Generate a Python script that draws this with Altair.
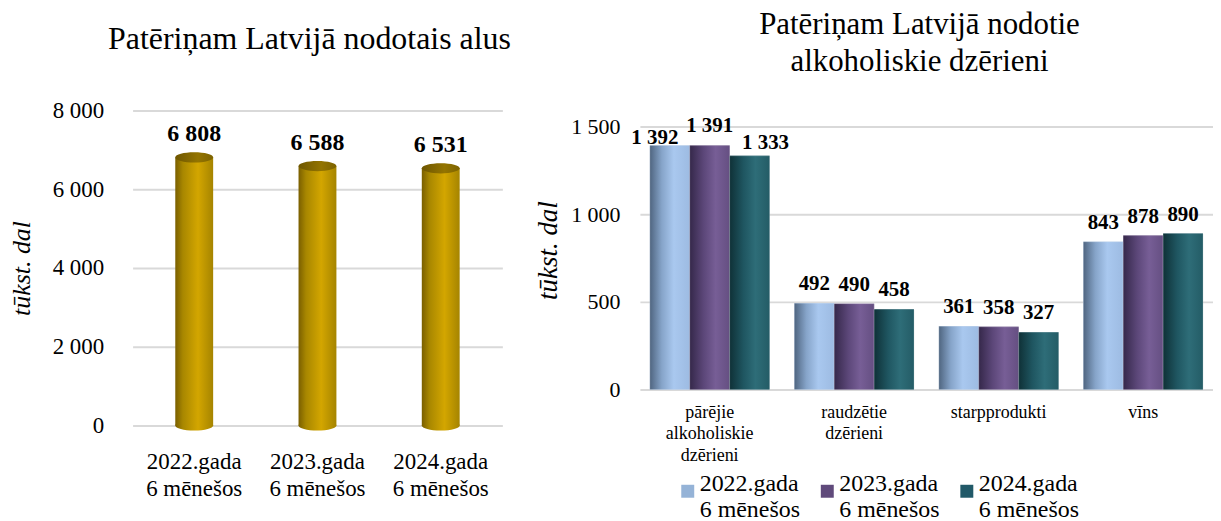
import altair as alt
import pandas as pd

# ---------------- data ----------------
periods = ["2022.gada 6 mēnešos", "2023.gada 6 mēnešos", "2024.gada 6 mēnešos"]
beer = [6808, 6588, 6531]

categories = ["pārējie alkoholiskie dzērieni", "raudzētie dzērieni", "starpprodukti", "vīns"]
alc_2022 = [1392, 492, 361, 843]
alc_2023 = [1391, 490, 358, 878]
alc_2024 = [1333, 458, 327, 890]

FONT = "Liberation Serif"


def fmt(v):
    return f"{v:,}".replace(",", " ")


beer_df = pd.DataFrame({"period": periods, "value": beer, "zero": [0] * len(beer)})
beer_df["label"] = beer_df["value"].map(fmt)

rows = []
for p, vals in zip(periods, [alc_2022, alc_2023, alc_2024]):
    for c, v in zip(categories, vals):
        rows.append({"category": c, "period": p, "value": v, "label": fmt(v)})
alc_df = pd.DataFrame(rows)

label_expr_num = "replace(format(datum.value, ','), ',', ' ')"
label_expr_period = "[substring(datum.label, 0, 9), substring(datum.label, 10)]"

# ---------------- left chart: beer cylinders ----------------
ELLIPSE = "M -1 0 A 1 0.27 0 1 0 1 0 A 1 0.27 0 1 0 -1 0 Z"
CYL_W = 38

gold_grad = alt.Gradient(
    gradient="linear", x1=0, x2=1, y1=0, y2=0,
    stops=[
        alt.GradientStop(offset=0, color="#7a5f00"),
        alt.GradientStop(offset=0.2, color="#a88700"),
        alt.GradientStop(offset=0.6, color="#d3a600"),
        alt.GradientStop(offset=1, color="#a58400"),
    ],
)
gold_top = alt.Gradient(
    gradient="linear", x1=0, x2=1, y1=0, y2=0,
    stops=[
        alt.GradientStop(offset=0, color="#6e5600"),
        alt.GradientStop(offset=0.6, color="#937400"),
        alt.GradientStop(offset=1, color="#7d6300"),
    ],
)

x_left = alt.X(
    "period:N", sort=periods, title=None,
    scale=alt.Scale(range=[0, 371], paddingInner=0, paddingOuter=0),
    axis=alt.Axis(labelExpr=label_expr_period, labelAngle=0, labelFont=FONT, labelFontSize=23,
                  labelColor="#000", labelPadding=25, labelLineHeight=27, ticks=False,
                  domain=False, labelBaseline="top"),
)
y_left_axis = alt.Axis(values=[0, 2000, 4000, 6000, 8000], labelExpr=label_expr_num, labelFont=FONT,
                       labelFontSize=23, labelColor="#000", labelPadding=29, ticks=False, domain=False,
                       gridColor="#d9d9d9", gridWidth=2, titleFont=FONT, titleFontSize=26,
                       titleFontStyle="italic", titleFontWeight="normal", titleColor="#000",
                       titlePadding=18)
y_left_scale = alt.Scale(domain=[0, 8000])
y_left = alt.Y("value:Q", title="tūkst. dal", scale=y_left_scale, axis=y_left_axis)
y_left_zero = alt.Y("zero:Q", title="tūkst. dal", scale=y_left_scale, axis=y_left_axis)

base_left = alt.Chart(beer_df)
cyl_body = base_left.mark_bar(size=CYL_W, fill=gold_grad).encode(x=x_left, y=y_left)
cyl_bottom = base_left.mark_point(shape=ELLIPSE, size=CYL_W * CYL_W, filled=True,
                                  fill=gold_grad, opacity=1, strokeWidth=0).encode(
    x=x_left, y=y_left_zero)
cyl_top = base_left.mark_point(shape=ELLIPSE, size=CYL_W * CYL_W, filled=True,
                               fill=gold_top, opacity=1, strokeWidth=0).encode(
    x=x_left, y=y_left)
beer_text = base_left.mark_text(font=FONT, fontSize=24, fontWeight="bold", color="#000",
                                baseline="alphabetic", dy=-16).encode(
    x=x_left, y=y_left, text="label:N")

left = alt.layer(cyl_body, cyl_bottom, cyl_top, beer_text).properties(
    width=383, height=316,
    title=alt.TitleParams("Patēriņam Latvijā nodotais alus", font=FONT, fontSize=32,
                          fontWeight="normal", color="#000", anchor="middle", offset=44, dx=-14),
)

# ---------------- right chart: grouped bars ----------------
solid_colors = ["#95b3d7", "#604a7b", "#215968"]
grads = [
    [("#4f6580", 0), ("#86a4c9", 0.3), ("#a9c8ef", 0.6), ("#9dbbe2", 1)],
    [("#35284a", 0), ("#5c4779", 0.35), ("#775e96", 0.65), ("#654f82", 1)],
    [("#0f3137", 0), ("#1f5661", 0.35), ("#2e6d78", 0.65), ("#245c66", 1)],
]

x_right = alt.X(
    "category:N", sort=categories, title=None,
    scale=alt.Scale(paddingInner=0.172, paddingOuter=0.069, align=0.5),
    axis=alt.Axis(labelExpr="split(datum.label, ' ')", labelAngle=0, labelFont=FONT, labelFontSize=18,
                  labelColor="#000", labelPadding=14, labelLineHeight=21.5, ticks=False, domain=False,
                  labelBaseline="top"),
)
y_right = alt.Y(
    "value:Q", title="tūkst. dal",
    scale=alt.Scale(domain=[0, 1591]),
    axis=alt.Axis(values=[0, 500, 1000, 1500], labelExpr=label_expr_num, labelFont=FONT,
                  labelFontSize=22, labelColor="#000", labelPadding=20, ticks=False, domain=False,
                  gridColor="#d9d9d9", gridWidth=2, titleFont=FONT, titleFontSize=27,
                  titleFontStyle="italic", titleFontWeight="normal", titleColor="#000",
                  titlePadding=8),
)
xoff = alt.XOffset("period:N", sort=periods, scale=alt.Scale(domain=periods, paddingInner=0))

base_right = alt.Chart(alc_df)
legend_bars = base_right.mark_bar().encode(
    x=x_right, y=y_right, xOffset=xoff,
    color=alt.Color(
        "period:N", sort=periods, title=None,
        scale=alt.Scale(domain=periods, range=solid_colors),
        legend=alt.Legend(orient="none", legendX=545, legendY=370, direction="horizontal",
                          columns=3, symbolType="square", symbolSize=169, symbolStrokeWidth=0,
                          labelFont=FONT, labelFontSize=24, labelColor="#000",
                          labelExpr=label_expr_period, labelBaseline="alphabetic", labelOffset=0,
                          columnPadding=15, labelLimit=250),
    ),
)

layers = [legend_bars]
for p, g in zip(periods, grads):
    grad = alt.Gradient(gradient="linear", x1=0, x2=1, y1=0, y2=0,
                        stops=[alt.GradientStop(offset=o, color=c) for c, o in g])
    layers.append(
        base_right.transform_filter(alt.datum.period == p)
        .mark_bar(fill=grad, stroke="#ffffff", strokeWidth=0.4, strokeOpacity=0.5)
        .encode(x=x_right, y=y_right, xOffset=xoff)
    )

text_common = dict(font=FONT, fontSize=21, fontWeight="bold", color="#000", baseline="alphabetic")
first_cat = categories[0]
layers.append(
    base_right.transform_filter(alt.datum.category != first_cat)
    .mark_text(dy=-13, **text_common)
    .encode(x=x_right, y=y_right, xOffset=xoff, text="label:N")
)
# crowded tallest group: spread the labels apart
shifts = [(-15, -1), (0, -14), (16, -7)]
for p, (dx, dy) in zip(periods, shifts):
    layers.append(
        base_right.transform_filter((alt.datum.category == first_cat) & (alt.datum.period == p))
        .mark_text(dx=dx, dy=dy, **text_common)
        .encode(x=x_right, y=y_right, xOffset=xoff, text="label:N")
    )

right = alt.layer(*layers).properties(
    width=575, height=280,
    title=alt.TitleParams(["Patēriņam Latvijā nodotie", "alkoholiskie dzērieni"], font=FONT,
                          fontSize=31, lineHeight=37, fontWeight="normal", color="#000",
                          anchor="middle", offset=33, dx=-7),
)

chart = (
    alt.hconcat(left, right, spacing=20)
    .configure(background="#ffffff", padding=0)
    .configure_view(stroke=None)
    .configure_axis(labelFont=FONT, titleFont=FONT, labelColor="#000")
    .configure_legend(labelFont=FONT, labelFontSize=24, labelColor="#000")
)

chart.save("out.html", embed_options={"renderer": "svg", "actions": False})
